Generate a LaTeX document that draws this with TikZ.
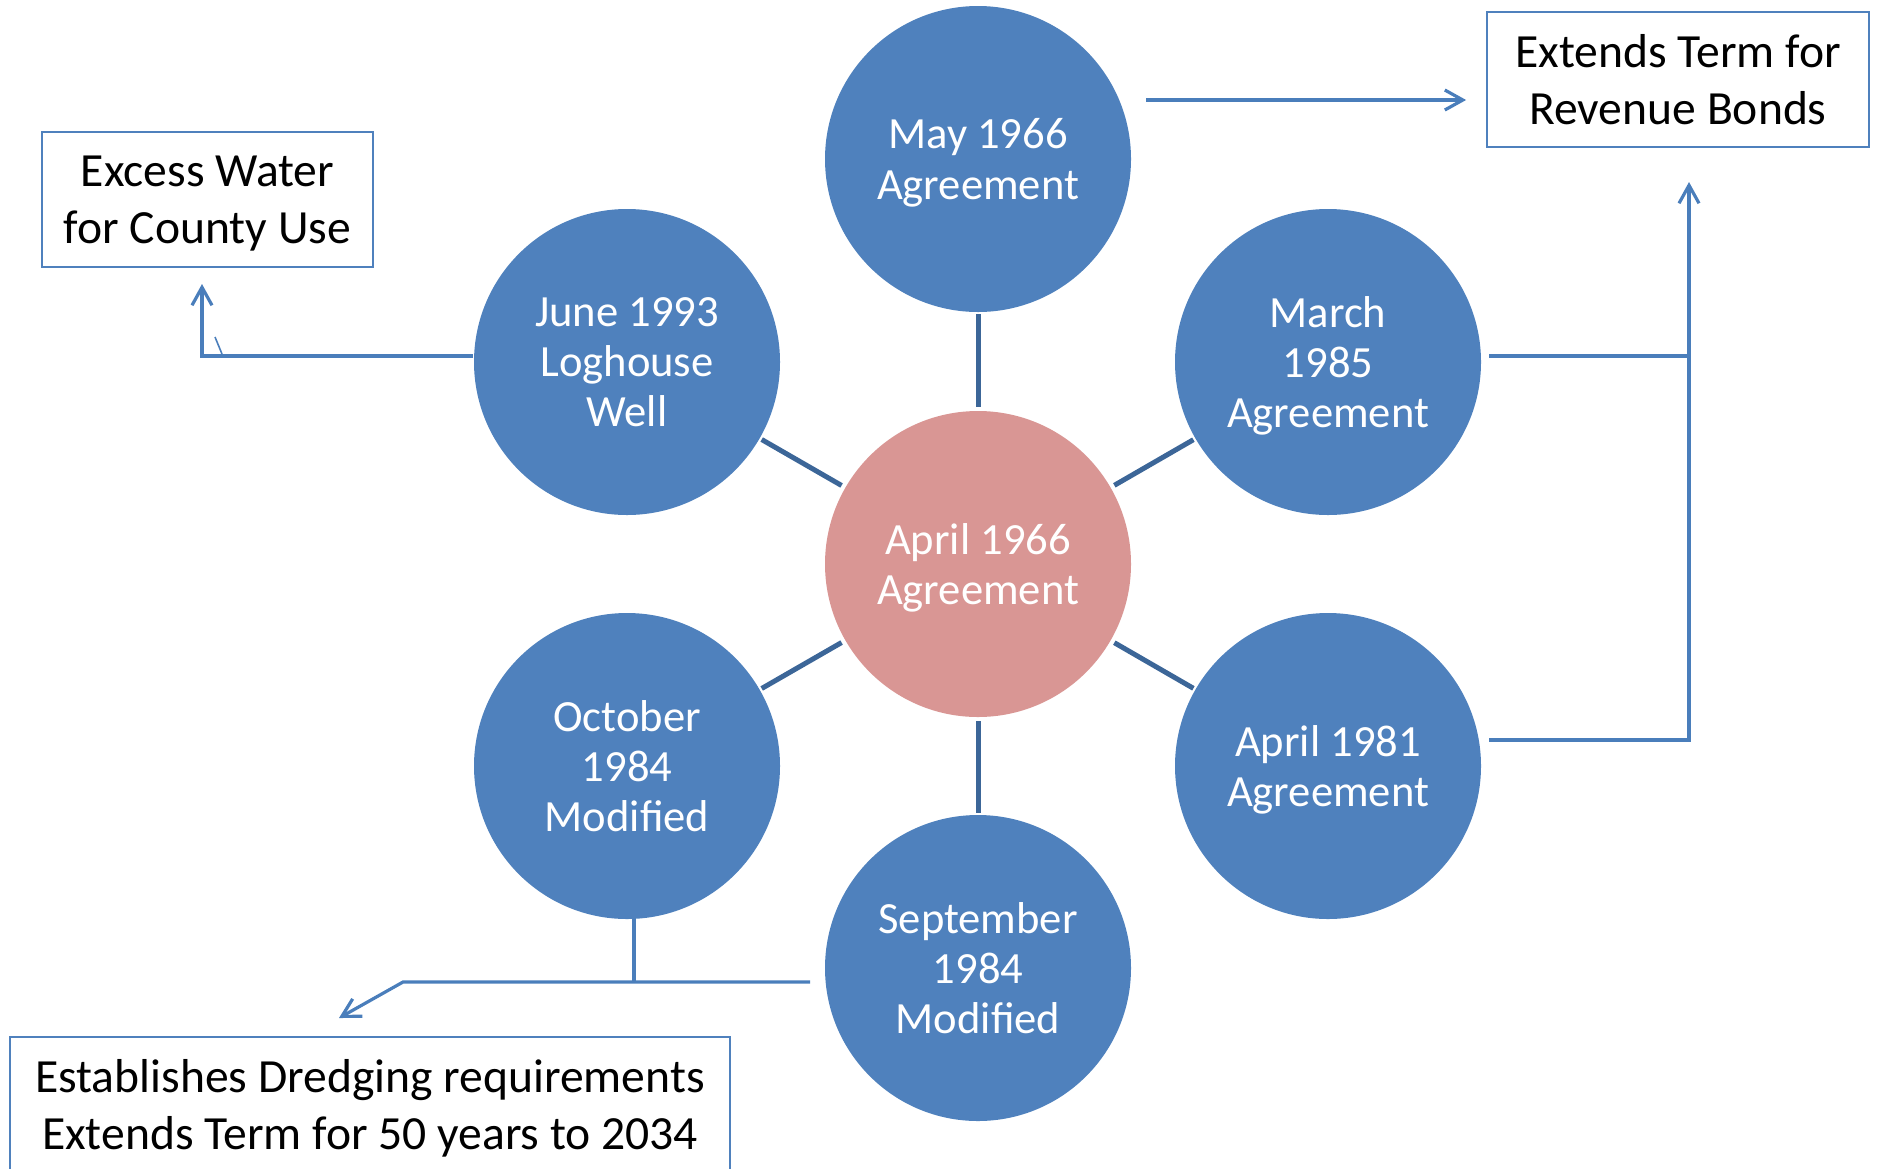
\documentclass[tikz,border=0pt]{standalone}
\usepackage{fontspec}
\setmainfont{Carlito}
\usepackage{xcolor}
\definecolor{circblue}{HTML}{4F81BD}
\definecolor{circpink}{HTML}{D99694}
\definecolor{spokeblue}{HTML}{3C6698}
\definecolor{linkblue}{HTML}{4A7EBB}
\usepackage{tikz}
\usetikzlibrary{arrows.meta, calc}

\begin{document}
\begin{tikzpicture}[
    x=0.5pt, y=-0.5pt,
    >={Straight Barb[length=9pt, width=10pt]},
    agree/.style={circle, fill=circblue, minimum size=153pt, inner sep=0pt, text=white, font=\fontsize{22.3}{25.2}\selectfont, align=center, text depth=0pt},
    hub/.style={agree, fill=circpink},
    note/.style={draw=circblue, line width=0.9pt, fill=white, font=\fontsize{23.8}{28.5}\selectfont, align=center, inner sep=0pt, minimum height=67.5pt, text depth=0pt},
    spoke/.style={draw=spokeblue, line width=2.5pt, shorten <=2pt, shorten >=1pt},
    conn/.style={draw=linkblue, line width=1.6pt},
]
\useasboundingbox (0,0) rectangle (1877,1168);

% ── Agreement circles ──
\node[hub] (hub) at (978,564) {April 1966\\Agreement};
\node[agree] (may) at (978,159) {May 1966\\Agreement};
\node[agree] (mar) at (1328,362) {March\\1985\\Agreement};
\node[agree] (apr) at (1328,766) {April 1981\\Agreement};
\node[agree] (sep) at (978,968) {September\\1984\\Modified};
\node[agree] (oct) at (627,766) {October\\1984\\Modified};
\node[agree] (jun) at (627,362) {June 1993\\Loghouse\\Well};

% ── Outcome boxes ──
\node[note, minimum width=165.5pt] (excess) at (207.5,199.5) {Excess Water\\for County Use};
\node[note, minimum width=191pt] (bonds) at (1678,79.5) {Extends Term for\\Revenue Bonds};
\node[note, minimum width=360pt] (dredge) at (370,1104.5) {Establishes Dredging requirements\\Extends Term for 50 years to 2034};

% ── Spokes ──
\foreach \n in {may,mar,apr,sep,oct,jun}
    \draw[spoke] (hub) -- (\n);

% ── Connectors ──
\coordinate (mayout) at (1146,100);
\draw[conn,->, shorten >=10pt] (mayout) -- (mayout -| bonds.west);

\coordinate (marout) at (1489,356);
\coordinate (aprout) at (1489,740);
\coordinate (rjoin) at (1689,182);
\draw[conn] (marout) -- (marout -| rjoin);
\draw[conn,->] (aprout) -| (rjoin);

\coordinate (junout) at (473,356);
\coordinate (ljoin) at (202,284);
\draw[conn,->] (junout) -| (ljoin);
\draw[conn, line width=0.8pt] (215,337) -- (222,354);

\coordinate (sepout) at (810,982);
\coordinate (bend) at (403,982);
\coordinate (btip) at (339,1018);
\draw[conn] ([xshift=3.5pt]oct.south) -- ([xshift=3.5pt]oct.south |- sepout);
\draw[conn,->] (sepout) -- (bend) -- (btip);
\end{tikzpicture}
\end{document}
